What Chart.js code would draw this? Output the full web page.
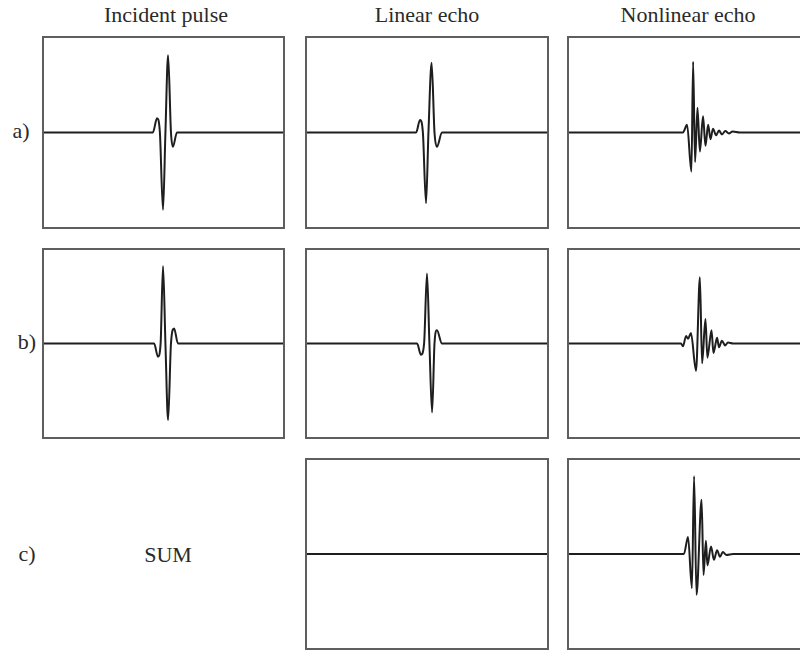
<!DOCTYPE html>
<html>
<head>
<meta charset="utf-8">
<script src="https://cdn.jsdelivr.net/npm/chart.js@4.4.1/dist/chart.umd.min.js"></script>
<style>
  html, body { margin: 0; padding: 0; background: #fff; }
  body { width: 800px; height: 651px; position: relative; overflow: hidden; }
  canvas { position: absolute; }
  .lbl {
    position: absolute;
    font-family: "Liberation Serif", "Times New Roman", serif;
    font-size: 22px;
    line-height: 22px;
    color: #2a2a2a;
    white-space: nowrap;
    transform: translateX(-50%);
  }
</style>
</head>
<body>

<script>
// Column titles and row labels
const columnTitles = ["Incident pulse", "Linear echo", "Nonlinear echo"];
const rowLabels = ["a)", "b)", "c)"];
const sumLabel = "SUM";

// Time axis (arbitrary sample units) and amplitude range shared by every panel
const timeRange = [0, 100];
const ampRange = [-1, 1];

// Incident pulse, case a
const incidentA_t = [0, 45.6, 47.3, 48.5, 49.8, 50.8, 51.9, 53.1, 53.9, 55.6, 100];
const incidentA_v = [0, 0, 0.15, 0, -0.81, 0, 0.81, 0, -0.15, 0, 0];

// Incident pulse, case b (inverted polarity)
const incidentB_t = [0, 46.1, 47.7, 48.8, 49.8, 50.8, 51.9, 53.1, 54.4, 56.0, 100];
const incidentB_v = [0, 0, -0.14, 0, 0.82, 0, -0.81, 0, 0.16, 0, 0];

// Linear echo, case a
const linearA_t = [0, 45.5, 47.1, 48.3, 49.6, 50.6, 51.9, 53.1, 54.1, 56.2, 100];
const linearA_v = [0, 0, 0.13, 0, -0.74, 0, 0.73, 0, -0.15, 0, 0];

// Linear echo, case b
const linearB_t = [0, 45.9, 47.5, 48.8, 50.0, 51.0, 52.1, 53.1, 54.1, 56.2, 100];
const linearB_v = [0, 0, -0.12, 0, 0.74, 0, -0.73, 0, 0.14, 0, 0];

// Linear echo, sum of a and b (cancels out)
const linearC_t = [0, 100];
const linearC_v = [0, 0];

// Nonlinear echo, case a
const nonlinA_t = [0, 47.5, 49.2, 51.0, 51.7, 52.5, 53.5, 54.5, 55.8, 56.8, 57.9, 58.9, 59.9, 61.2, 62.4, 63.6, 65.0, 66.5, 68.0, 71.0, 100];
const nonlinA_v = [0, 0, 0.08, -0.41, 0.74, -0.31, 0.26, -0.20, 0.17, -0.14, 0.08, -0.07, 0.04, -0.03, 0.02, -0.02, 0.015, -0.01, 0.01, 0, 0];

// Nonlinear echo, case b
const nonlinB_t = [0, 46.7, 47.5, 48.8, 49.6, 50.8, 52.9, 54.5, 55.4, 56.8, 57.6, 59.3, 60.1, 61.6, 62.4, 63.6, 64.9, 66.1, 68.2, 100];
const nonlinB_v = [0, 0, -0.03, 0.08, 0.05, 0.11, -0.29, 0.70, -0.21, 0.26, -0.15, 0.14, -0.10, 0.06, -0.04, 0.03, -0.02, 0.01, 0, 0];

// Nonlinear echo, sum of a and b
const nonlinC_t = [0, 47.9, 49.6, 51.2, 52.1, 53.1, 55.2, 56.0, 57.0, 57.6, 59.1, 60.3, 61.6, 62.8, 64.0, 65.5, 68.2, 100];
const nonlinC_v = [0, 0, 0.18, -0.36, 0.82, -0.43, 0.57, -0.22, 0.14, -0.12, 0.08, -0.06, 0.04, -0.03, 0.02, -0.01, 0, 0];

// Panel frame geometry (page pixels)
const colLeft = [43, 306, 568];
const colRight = [284, 548, 810];
const rowTop = [37, 249, 459];
const rowBottom = [228, 438, 649];

const panels = [
  { row: 0, col: 0, t: incidentA_t, v: incidentA_v },
  { row: 0, col: 1, t: linearA_t, v: linearA_v },
  { row: 0, col: 2, t: nonlinA_t, v: nonlinA_v },
  { row: 1, col: 0, t: incidentB_t, v: incidentB_v },
  { row: 1, col: 1, t: linearB_t, v: linearB_v },
  { row: 1, col: 2, t: nonlinB_t, v: nonlinB_v },
  { row: 2, col: 1, t: linearC_t, v: linearC_v },
  { row: 2, col: 2, t: nonlinC_t, v: nonlinC_v }
];

// Draws the rectangular frame around each plot area
const framePlugin = {
  id: 'frame',
  afterDraw(chart) {
    const a = chart.chartArea;
    const ctx = chart.ctx;
    ctx.save();
    ctx.strokeStyle = '#5e5e5e';
    ctx.lineWidth = 2;
    ctx.strokeRect(a.left, a.top, a.right - a.left, a.bottom - a.top);
    ctx.restore();
  }
};

const PAD = 3;
panels.forEach(p => {
  const cv = document.createElement('canvas');
  const w = colRight[p.col] - colLeft[p.col] + 2 * PAD;
  const h = rowBottom[p.row] - rowTop[p.row] + 2 * PAD;
  cv.width = w; cv.height = h;
  cv.style.left = (colLeft[p.col] - PAD) + 'px';
  cv.style.top = (rowTop[p.row] - PAD) + 'px';
  cv.style.width = w + 'px'; cv.style.height = h + 'px';
  document.body.appendChild(cv);

  new Chart(cv, {
    type: 'line',
    data: {
      datasets: [{
        data: p.t.map((t, i) => ({ x: t, y: p.v[i] })),
        borderColor: '#1e1e1e',
        borderWidth: 2,
        pointRadius: 0,
        cubicInterpolationMode: 'monotone',
        fill: false
      }]
    },
    options: {
      responsive: false,
      animation: false,
      devicePixelRatio: 1,
      layout: { padding: PAD },
      plugins: { legend: { display: false }, tooltip: { enabled: false } },
      events: [],
      scales: {
        x: { type: 'linear', min: timeRange[0], max: timeRange[1], display: false },
        y: { type: 'linear', min: ampRange[0], max: ampRange[1], display: false }
      }
    },
    plugins: [framePlugin]
  });
});

// Text labels
function addLabel(text, cx, top) {
  const d = document.createElement('div');
  d.className = 'lbl';
  d.textContent = text;
  d.style.left = cx + 'px';
  d.style.top = top + 'px';
  document.body.appendChild(d);
}
const titleCenters = [166, 427, 688];
columnTitles.forEach((t, i) => addLabel(t, titleCenters[i], 4));
const rowLabelX = [21, 27, 27];
const rowLabelTop = [120, 331, 543];
rowLabels.forEach((t, i) => addLabel(t, rowLabelX[i], rowLabelTop[i]));
addLabel(sumLabel, 168, 544);
</script>
</body>
</html>
